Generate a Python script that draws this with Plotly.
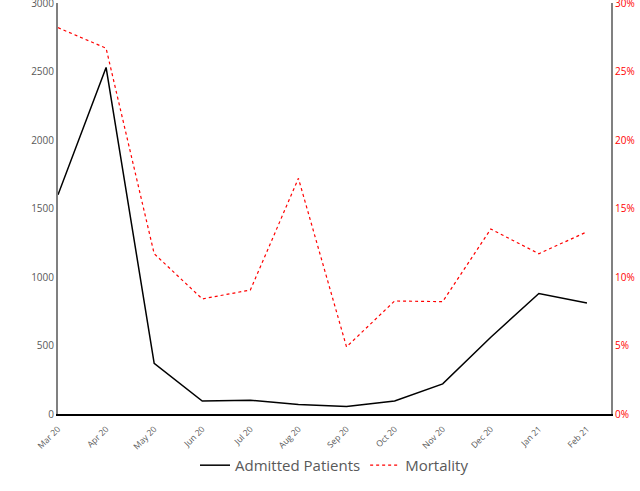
import plotly.graph_objects as go

months = ["Mar 20", "Apr 20", "May 20", "Jun 20", "Jul 20", "Aug 20", "Sep 20",
          "Oct 20", "Nov 20", "Dec 20", "Jan 21", "Feb 21"]
admitted = [1600, 2530, 370, 95, 100, 70, 55, 95, 220, 560, 880, 810]
mortality = [28.2, 26.7, 11.7, 8.4, 9.05, 17.2, 4.9, 8.25, 8.2, 13.5, 11.7, 13.3]
left_ticks = [0, 500, 1000, 1500, 2000, 2500, 3000]
right_ticks = [0, 5, 10, 15, 20, 25, 30]
right_labels = ["0%", "5%", "10%", "15%", "20%", "25%", "30%"]

x = list(range(len(months)))

fig = go.Figure()
fig.add_trace(go.Scatter(x=x, y=admitted, mode="lines", name="Admitted Patients",
                         line=dict(color="black", width=1.5)))
fig.add_trace(go.Scatter(x=x, y=mortality, mode="lines", name="Mortality", yaxis="y2",
                         line=dict(color="red", width=1.2, dash="dot")))

fig.update_layout(
    width=640, height=491,
    margin=dict(l=58, r=29, t=3, b=77),
    plot_bgcolor="white", paper_bgcolor="white",
    font=dict(family="Open Sans, sans-serif", color="#595959"),
    xaxis=dict(tickmode="array", tickvals=x, ticktext=months, range=[0, 11.5],
               tickangle=-45, tickfont=dict(size=8.5, color="#595959"),
               showgrid=False, zeroline=False, showline=True, linecolor="black",
               linewidth=1.5, ticks="outside", ticklen=5, tickcolor="rgba(0,0,0,0)",
               automargin=False, ticklabeloverflow="allow"),
    yaxis=dict(range=[0, 3000], tickmode="array", tickvals=left_ticks,
               showgrid=False, zeroline=False,
               showline=True, linecolor="#808080", linewidth=2,
               tickfont=dict(size=10, color="#595959"), ticks="", automargin=False,
               ticklabeloverflow="allow"),
    yaxis2=dict(range=[0, 30], tickmode="array", tickvals=right_ticks,
                ticktext=right_labels,
                overlaying="y", side="right",
                showgrid=False, zeroline=False, showline=True, linecolor="#808080",
                linewidth=2, tickfont=dict(size=10, color="red"), ticks="",
                automargin=False, ticklabeloverflow="allow"),
    legend=dict(orientation="h", x=0.5, xanchor="center", y=-0.085, yanchor="top",
                font=dict(size=15, color="#595959")),
    showlegend=True,
)

fig.write_html("out.html", config={"displayModeBar": False},
               post_script="document.body.style.margin='0';")
